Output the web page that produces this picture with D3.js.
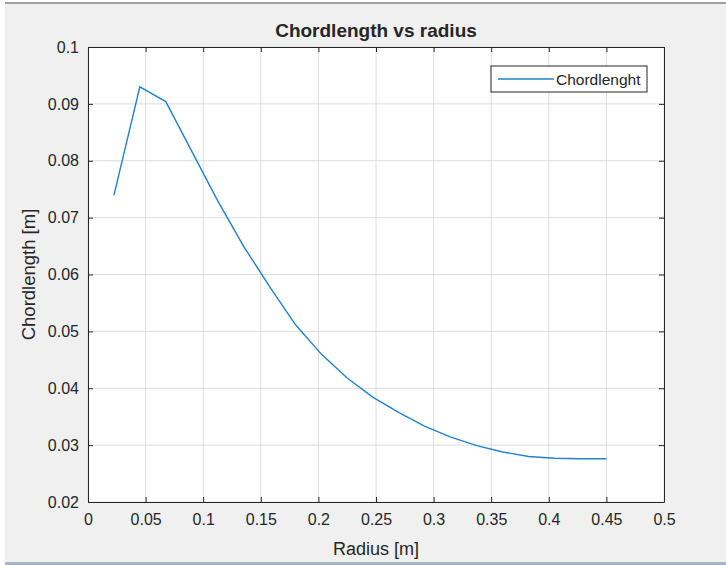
<!DOCTYPE html>
<html>
<head>
<meta charset="utf-8">
<script src="https://cdn.jsdelivr.net/npm/d3@7"></script>
<style>
  body { margin: 0; background: #fff; }
  svg text { font-family: "Liberation Sans", Arial, sans-serif; fill: #262626; }
</style>
</head>
<body>
<svg class="fig" width="726" height="565"></svg>
<script>
// radius [m] and chord length [m]
let radius = [0.0225, 0.045, 0.0675, 0.09, 0.1125, 0.135, 0.1575, 0.18, 0.2025, 0.225,
              0.2475, 0.27, 0.2925, 0.315, 0.3375, 0.36, 0.3825, 0.405, 0.4275, 0.45];
let chord = [0.0739, 0.0930, 0.0904, 0.0817, 0.0730, 0.0650, 0.0579, 0.0512, 0.0460, 0.0418,
             0.0384, 0.0357, 0.0333, 0.0314, 0.0299, 0.0288, 0.0280, 0.0277, 0.0276, 0.0276];
let xticks = [0, 0.05, 0.1, 0.15, 0.2, 0.25, 0.3, 0.35, 0.4, 0.45, 0.5];
let yticks = [0.02, 0.03, 0.04, 0.05, 0.06, 0.07, 0.08, 0.09, 0.1];
let seriesName = "Chordlenght";

let margin = {top: 47, right: 62, bottom: 63, left: 88};
let width = 726 - margin.left - margin.right;
let height = 565 - margin.top - margin.bottom;

let svg = d3.select(".fig");

// figure background, like matlab
svg.append("rect").attr("x", 5).attr("y", 3).attr("width", 721).attr("height", 562).attr("fill", "#f0f0f0");
svg.append("rect").attr("x", 5).attr("y", 2).attr("width", 721).attr("height", 2).attr("fill", "#a0a0a0");
svg.append("rect").attr("x", 5).attr("y", 562).attr("width", 721).attr("height", 3).attr("fill", "#a7b4c6");

let x = d3.scaleLinear().domain([0, 0.5]).range([0, width]);
let y = d3.scaleLinear().domain([0.02, 0.1]).range([height, 0]);

let main = svg.append("g")
  .attr("transform", "translate(" + margin.left + "," + margin.top + ")");

main.append("rect").attr("width", width).attr("height", height).attr("fill", "#fff");

// grid
main.append("g").selectAll("line").data(xticks).enter().append("line")
  .attr("x1", d => x(d)).attr("x2", d => x(d))
  .attr("y1", 0).attr("y2", height)
  .attr("stroke", "#dcdcdc").attr("stroke-width", 1);
main.append("g").selectAll("line").data(yticks).enter().append("line")
  .attr("y1", d => y(d)).attr("y2", d => y(d))
  .attr("x1", 0).attr("x2", width)
  .attr("stroke", "#dcdcdc").attr("stroke-width", 1);

// axes, ticks pointing inward
let fmt = d => String(+d.toFixed(3));
let xAxis = d3.axisBottom(x).tickValues(xticks).tickFormat(fmt).tickSizeInner(-5).tickSizeOuter(0).tickPadding(12);
let yAxis = d3.axisLeft(y).tickValues(yticks).tickFormat(fmt).tickSizeInner(-5).tickSizeOuter(0).tickPadding(9);
let xTop = d3.axisTop(x).tickValues(xticks).tickFormat("").tickSizeInner(-5).tickSizeOuter(0);
let yRight = d3.axisRight(y).tickValues(yticks).tickFormat("").tickSizeInner(-5).tickSizeOuter(0);

function style(g) {
  g.selectAll("path").attr("stroke", "#262626");
  g.selectAll("line").attr("stroke", "#262626");
  g.selectAll("text").attr("font-size", 16).style("font-family", "Liberation Sans, Arial, sans-serif").attr("fill", "#262626");
}

main.append("g").attr("transform", "translate(0," + height + ")").call(xAxis).call(style);
main.append("g").call(yAxis).call(style);
main.append("g").call(xTop).call(style);
main.append("g").attr("transform", "translate(" + width + ",0)").call(yRight).call(style);

// the line
let line = d3.line().x((d, i) => x(radius[i])).y(d => y(d));
main.append("path").datum(chord)
  .attr("d", line)
  .attr("fill", "none")
  .attr("stroke", "#1f82cc")
  .attr("stroke-width", 1.4);

// legend
let lg = main.append("g").attr("transform", "translate(" + (width - 173) + ",19)");
lg.append("rect").attr("width", 156).attr("height", 26).attr("fill", "#fff").attr("stroke", "#262626");
lg.append("line").attr("x1", 7).attr("x2", 63).attr("y1", 13).attr("y2", 13)
  .attr("stroke", "#1f82cc").attr("stroke-width", 1.4);
lg.append("text").attr("x", 65).attr("y", 18.5).attr("font-size", 15.5).text(seriesName);

// labels
svg.append("text").attr("x", margin.left + width / 2).attr("y", 37)
  .attr("text-anchor", "middle").attr("font-size", 19).attr("font-weight", "bold")
  .text("Chordlength vs radius");
svg.append("text").attr("x", margin.left + width / 2).attr("y", 555)
  .attr("text-anchor", "middle").attr("font-size", 18).text("Radius [m]");
svg.append("text").attr("transform", "translate(35," + (margin.top + height / 2) + ") rotate(-90)")
  .attr("text-anchor", "middle").attr("font-size", 18.5).text("Chordlength [m]");
</script>
</body>
</html>
